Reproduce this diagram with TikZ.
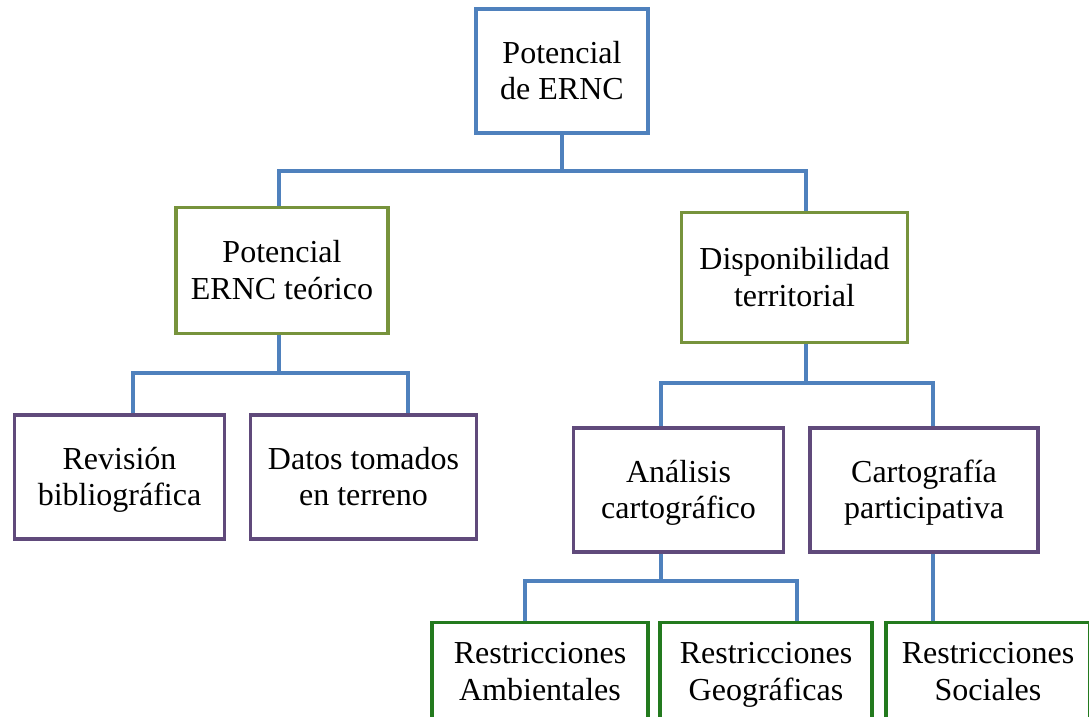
\documentclass[tikz,border=0pt]{standalone}
\usepackage{fontspec}
\setmainfont{Liberation Serif}
\usetikzlibrary{shadows}
\definecolor{cblue}{HTML}{4F81BD}
\definecolor{colive}{HTML}{77933C}
\definecolor{cpurple}{HTML}{604A7B}
\definecolor{cgreen}{HTML}{237A1E}
\newcommand{\mystrut}{\rule[-5.5pt]{0pt}{26.5pt}}
\newcommand{\twol}[2]{\mystrut #1\\\mystrut #2}
\begin{document}
\begin{tikzpicture}[x=0.75pt,y=-0.75pt,
  box/.style={draw, line width=2.3pt, fill=white, align=center, inner sep=0pt,
    font=\fontsize{24}{27.5}\selectfont,
    drop shadow={opacity=0.18, shadow xshift=1.2pt, shadow yshift=-1.2pt}},
  bluebox/.style={box, draw=cblue},
  olivebox/.style={box, draw=colive},
  purplebox/.style={box, draw=cpurple},
  greenbox/.style={box, draw=cgreen},
  conn/.style={draw=cblue, line width=2.3pt}]
\useasboundingbox (0,0) rectangle (1089,717);
% junction points of the connector buses
\coordinate (t1) at (279,171);
\coordinate (t2) at (806,171);
\coordinate (l1) at (133,373);
\coordinate (l2) at (408,373);
\coordinate (r1) at (661,383);
\coordinate (r2) at (933,383);
\coordinate (b1) at (525,581);
\coordinate (b2) at (797,581);
% nodes
\node[bluebox, minimum width=129pt, minimum height=93pt] (top) at (562,71) {\twol{Potencial}{de ERNC}};
\node[olivebox, minimum width=159pt, minimum height=94pt] (teo) at (282,270.5) {\twol{Potencial}{ERNC teórico}};
\node[olivebox, minimum width=170pt, minimum height=97pt] (disp) at (794.5,277.5) {\twol{Disponibilidad}{territorial}};
\node[purplebox, minimum width=158pt, minimum height=93pt] (rev) at (119.5,477) {\twol{Revisión}{bibliográfica}};
\node[purplebox, minimum width=170pt, minimum height=93pt] (datos) at (363.5,477) {\twol{Datos tomados}{en terreno}};
\node[purplebox, minimum width=158pt, minimum height=93pt] (anal) at (678.5,490) {\twol{Análisis}{cartográfico}};
\node[purplebox, minimum width=171pt, minimum height=93pt] (carto) at (924,490) {\twol{Cartografía}{participativa}};
\node[greenbox, minimum width=162pt, minimum height=73pt] (amb) at (540,671.5) {\twol{Restricciones}{Ambientales}};
\node[greenbox, minimum width=159pt, minimum height=73pt] (geo) at (766,671.5) {\twol{Restricciones}{Geográficas}};
\node[greenbox, minimum width=153pt, minimum height=73pt] (soc) at (988,671.5) {\twol{Restricciones}{Sociales}};
% connectors
\draw[conn] (top.south) -- (top.south |- t1);
\draw[conn] (t1 |- teo.north) -- (t1) -- (t2) -- (t2 |- disp.north);
\draw[conn] (teo.south -| t1) -- (t1 |- l1);
\draw[conn] (l1 |- rev.north) -- (l1) -- (l2) -- (l2 |- datos.north);
\draw[conn] (disp.south -| t2) -- (t2 |- r1);
\draw[conn] (r1 |- anal.north) -- (r1) -- (r2) -- (r2 |- carto.north);
\draw[conn] (anal.south -| r1) -- (r1 |- b1);
\draw[conn] (b1 |- amb.north) -- (b1) -- (b2) -- (b2 |- geo.north);
\draw[conn] (carto.south -| r2) -- (r2 |- soc.north);
\end{tikzpicture}
\end{document}
